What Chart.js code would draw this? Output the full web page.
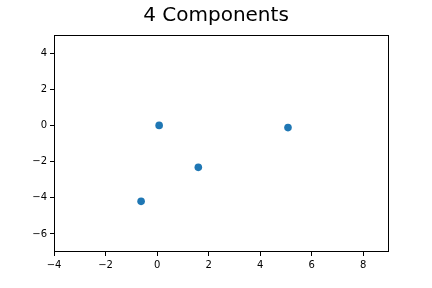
<!DOCTYPE html>
<html lang="en">
<head>
    <meta charset="UTF-8">
    <title>4 Components</title>
    <script src="https://cdn.jsdelivr.net/npm/chart.js"></script>
    <style>
        html, body { margin: 0; padding: 0; background: #fff; }
        #wrap { width: 432px; height: 288px; }
    </style>
</head>
<body>
    <div id="wrap"><canvas id="pcaChart" width="432" height="288"></canvas></div>

    <script>
        // component coordinates
        const compX = [0.08, 1.6, 5.08, -0.62];
        const compY = [0.0, -2.32, -0.12, -4.2];
        const xTicks = [-4, -2, 0, 2, 4, 6, 8];
        const yTicks = [-6, -4, -2, 0, 2, 4];
        const xRange = [-4, 9];
        const yRange = [-7, 5];

        const font = "'DejaVu Sans', sans-serif";
        const minus = v => String(v).replace('-', '\u2212');

        // box round the plot area, like matplotlib's spines
        const frame = {
            id: 'frame',
            afterDatasetsDraw(chart) {
                const a = chart.chartArea;
                const ctx = chart.ctx;
                ctx.save();
                ctx.strokeStyle = '#000';
                ctx.lineWidth = 1;
                ctx.strokeRect(Math.round(a.left) + 0.5, Math.round(a.top) + 0.5,
                    Math.round(a.right - a.left) - 1, Math.round(a.bottom - a.top) - 1);
                ctx.restore();
            }
        };

        const ctx = document.getElementById('pcaChart').getContext('2d');
        const pcaChart = new Chart(ctx, {
            type: 'scatter',
            data: {
                datasets: [{
                    data: compX.map((x, i) => ({ x: x, y: compY[i] })),
                    backgroundColor: '#1f77b4',
                    borderColor: '#1f77b4',
                    borderWidth: 0,
                    pointRadius: 3.8,
                    pointHoverRadius: 3.8
                }]
            },
            options: {
                responsive: false,
                animation: false,
                layout: { padding: 0 },
                plugins: {
                    legend: { display: false },
                    tooltip: { enabled: false },
                    title: {
                        display: true,
                        text: '4 Components',
                        color: '#000',
                        font: { family: font, size: 20, weight: 'normal' },
                        padding: { top: 4, bottom: 7 }
                    }
                },
                scales: {
                    x: {
                        type: 'linear',
                        min: xRange[0],
                        max: xRange[1],
                        afterBuildTicks: s => { s.ticks = xTicks.map(v => ({ value: v })); },
                        afterFit: s => { s.height = 36; },
                        grid: { drawOnChartArea: false, drawTicks: true, tickLength: 4, color: '#000' },
                        border: { display: false },
                        ticks: {
                            color: '#000',
                            padding: 3,
                            maxRotation: 0,
                            font: { family: font, size: 10 },
                            callback: v => minus(v)
                        }
                    },
                    y: {
                        type: 'linear',
                        min: yRange[0],
                        max: yRange[1],
                        afterBuildTicks: s => { s.ticks = yTicks.map(v => ({ value: v })); },
                        afterFit: s => { s.width = 54; },
                        grid: { drawOnChartArea: false, drawTicks: true, tickLength: 4, color: '#000' },
                        border: { display: false },
                        ticks: {
                            color: '#000',
                            padding: 3,
                            font: { family: font, size: 10 },
                            callback: v => minus(v)
                        }
                    },
                    // empty right-hand axis: only reserves the blank margin right of the plot
                    yRight: {
                        type: 'linear',
                        position: 'right',
                        min: yRange[0],
                        max: yRange[1],
                        afterFit: s => { s.width = 43; },
                        grid: { display: false },
                        border: { display: false },
                        ticks: { display: false }
                    }
                }
            },
            plugins: [frame]
        });
    </script>
</body>
</html>
